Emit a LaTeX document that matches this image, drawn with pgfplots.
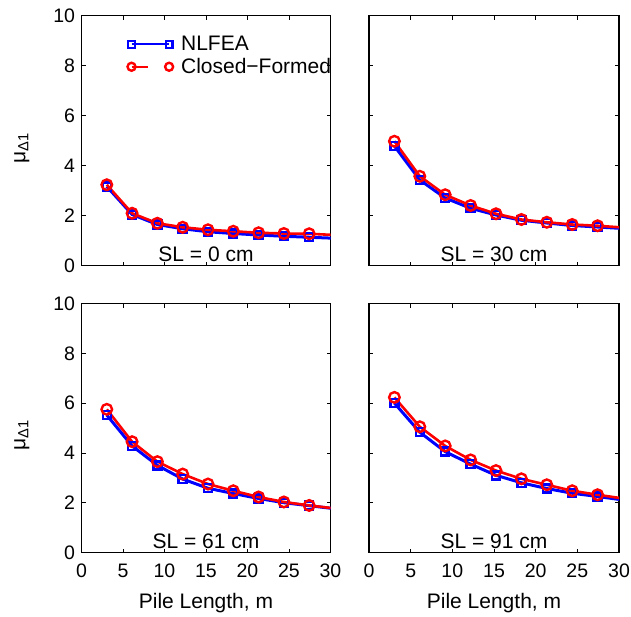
\documentclass[border=0pt]{standalone}
\usepackage{fontspec}
\setmainfont{Liberation Sans}
\usepackage{pgfplots}
\pgfplotsset{compat=1.18}

\tikzset{sl/.style={font=\fontsize{21}{24}\selectfont, anchor=base}}
\pgfplotsset{
 myaxis/.style={
  scale only axis, anchor=north west,
  xmin=0,xmax=30,ymin=0,ymax=10,
  xtick={0,5,...,30}, ytick={0,2,...,10},
  tick align=inside, major tick length=4pt,
  tick style={black, line width=0.6pt},
  axis line style={line width=1.1pt},
  /pgf/number format/assume math mode=true,
  ticklabel style={font=\fontsize{19.5}{22}\selectfont},
  label style={font=\fontsize{21}{24}\selectfont},
  xticklabel shift=8pt, yticklabel shift=3pt,
  ylabel style={at={(ticklabel cs:0.47)}},
  ylabel shift=17pt,
  xlabel style={at={(axis description cs:0.5,-0.224)}, anchor=base},
 },
 nl/.style={blue, line width=3pt, mark=square, mark size=4pt, mark options={solid, line width=2.4pt}, mark indices={1,2,3,4,5,6,7,8,9},
   legend image code/.code={\draw[blue, line width=2pt, mark=square, mark size=3.3pt] plot coordinates {(0pt,0pt) (37.6pt,0pt)};}},
 cf/.style={red, line width=2.6pt, mark=o, mark size=5.3pt, mark options={solid,line width=2.4pt}, mark indices={1,2,3,4,5,6,7,8,9},
   legend image code/.code={\draw[red, line width=2pt] (0pt,0pt) -- (16pt,0pt);
     \draw[red, line width=2pt, mark=o, mark size=4pt] plot[only marks] coordinates {(0pt,0pt) (37.6pt,0pt)};}},
}

\begin{document}
\begin{tikzpicture}
\path[use as bounding box] (0pt,0pt) rectangle (631pt,-616pt);

% top-left SL = 0 cm
\begin{axis}[myaxis, at={(81.5pt,-15.5pt)}, width=249pt, height=250pt,
  xticklabels={}, ylabel={μ\textsubscript{Δ1}},
  legend style={draw=none, fill=none, at={(axis description cs:0.184,0.925)}, anchor=north west,
    font=\fontsize{21}{24}\selectfont, row sep=2pt, inner sep=0pt,
    /tikz/every odd column/.append style={column sep=6pt}},
  legend cell align=left]
\addplot[nl] coordinates {(3.048,3.16) (6.096,2.04) (9.144,1.64) (12.192,1.47) (15.24,1.35) (18.288,1.28) (21.336,1.22) (24.384,1.17) (27.432,1.13) (30.48,1.09)};
\addlegendentry{NLFEA}
\addplot[cf] coordinates {(3.048,3.23) (6.096,2.09) (9.144,1.69) (12.192,1.53) (15.24,1.43) (18.288,1.37) (21.336,1.31) (24.384,1.28) (27.432,1.27) (30.48,1.22)};
\addlegendentry{Closed−Formed}
\node[sl] at (axis description cs:0.5,0.018) {SL = 0 cm};
\end{axis}

% top-right SL = 30 cm
\begin{axis}[myaxis, at={(369pt,-15.5pt)}, width=250pt, height=250pt,
  xticklabels={}, yticklabels={}]
\addplot[nl] coordinates {(3.048,4.78) (6.096,3.42) (9.144,2.70) (12.192,2.29) (15.24,2.02) (18.288,1.81) (21.336,1.70) (24.384,1.60) (27.432,1.54) (30.48,1.48)};
\addplot[cf] coordinates {(3.048,4.97) (6.096,3.57) (9.144,2.83) (12.192,2.40) (15.24,2.07) (18.288,1.84) (21.336,1.73) (24.384,1.64) (27.432,1.59) (30.48,1.52)};
\node[sl] at (axis description cs:0.5,0.018) {SL = 30 cm};
\end{axis}

% bottom-left SL = 61 cm
\begin{axis}[myaxis, at={(81.5pt,-303.5pt)}, width=249pt, height=249pt,
  xlabel={Pile Length, m}, ylabel={μ\textsubscript{Δ1}}]
\addplot[nl] coordinates {(3.048,5.52) (6.096,4.28) (9.144,3.50) (12.192,2.95) (15.24,2.58) (18.288,2.37) (21.336,2.17) (24.384,2.00) (27.432,1.88) (30.48,1.76)};
\addplot[cf] coordinates {(3.048,5.75) (6.096,4.45) (9.144,3.65) (12.192,3.15) (15.24,2.75) (18.288,2.48) (21.336,2.23) (24.384,2.03) (27.432,1.89) (30.48,1.77)};
\node[sl] at (axis description cs:0.5,0.018) {SL = 61 cm};
\end{axis}

% bottom-right SL = 91 cm
\begin{axis}[myaxis, at={(369pt,-303.5pt)}, width=250pt, height=249pt,
  xlabel={Pile Length, m}, yticklabels={}]
\addplot[nl] coordinates {(3.048,6.00) (6.096,4.83) (9.144,4.05) (12.192,3.55) (15.24,3.10) (18.288,2.80) (21.336,2.57) (24.384,2.38) (27.432,2.25) (30.48,2.11)};
\addplot[cf] coordinates {(3.048,6.23) (6.096,5.05) (9.144,4.28) (12.192,3.72) (15.24,3.29) (18.288,2.96) (21.336,2.72) (24.384,2.48) (27.432,2.32) (30.48,2.17)};
\node[sl] at (axis description cs:0.5,0.018) {SL = 91 cm};
\end{axis}
\end{tikzpicture}
\end{document}
